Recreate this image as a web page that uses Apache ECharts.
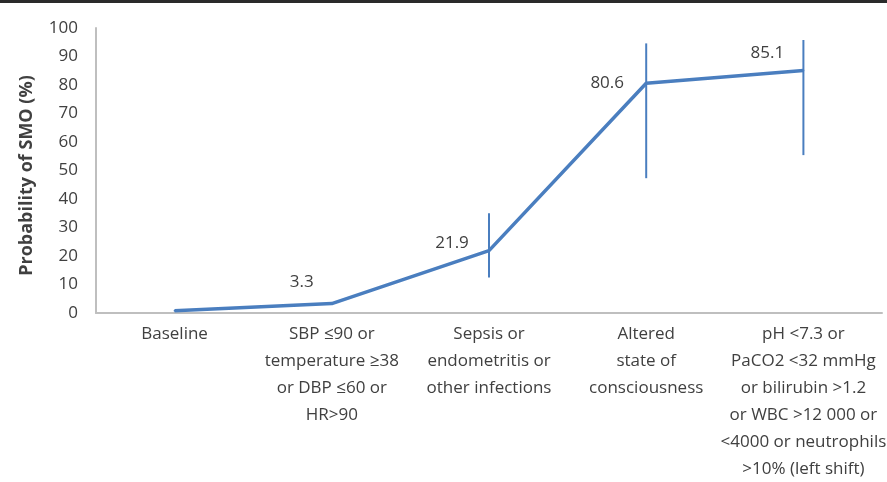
<!DOCTYPE html>
<html>
<head>
<meta charset="utf-8">
<script src="https://cdn.jsdelivr.net/npm/echarts@6/dist/echarts.min.js"></script>
<style>
html,body{margin:0;padding:0;background:#fff;}
#c{width:887px;height:482px;}
</style>
</head>
<body>
<div id="c"></div>
<script>
var categories = [
  'Baseline',
  'SBP \u226490 or\ntemperature \u226538\nor DBP \u226460 or\nHR>90',
  'Sepsis or\nendometritis or\nother infections',
  'Altered\nstate of\nconsciousness',
  'pH <7.3 or\nPaCO2 <32 mmHg\nor bilirubin >1.2\nor WBC >12 000 or\n<4000 or neutrophils\n>10% (left shift)'
];
var probability = [0.8, 3.3, 21.9, 80.6, 85.1];
var showLabel = [false, true, true, true, true];
var errLow = [null, null, 12.5, 47.3, 55.4];
var errHigh = [null, null, 35.0, 94.6, 95.8];
var yTicks = [0, 10, 20, 30, 40, 50, 60, 70, 80, 90, 100];

var FONT = '"Open Sans", sans-serif';
var BLUE = '#4a7ebf';
var labelOffsets = [[0,0],[-30,-21],[-37,-7],[-39,0],[-36,-17]];

var lineData = probability.map(function(v, i){
  return {
    value: v,
    label: {
      show: showLabel[i],
      position: 'inside',
      offset: labelOffsets[i],
      formatter: function(p){ return p.value.toFixed(1); },
      color: '#404040',
      fontFamily: FONT,
      fontSize: 17
    }
  };
});

var errData = [];
for (var i = 0; i < categories.length; i++) {
  if (errLow[i] != null) errData.push([i, errLow[i], errHigh[i]]);
}

var chart = echarts.init(document.getElementById('c'));
chart.setOption({
  animation: false,
  backgroundColor: '#fff',
  grid: {left: 96, right: 5, top: 28, bottom: 169, containLabel: false, outerBoundsMode: 'none'},
  xAxis: {
    type: 'category',
    data: categories,
    boundaryGap: true,
    axisLine: {show: true, lineStyle: {color: '#bfbfbf', width: 2}},
    axisTick: {show: false},
    axisLabel: {
      interval: 0,
      color: '#404040',
      fontFamily: FONT,
      fontSize: 17,
      lineHeight: 27,
      margin: 8
    }
  },
  yAxis: {
    type: 'value',
    min: yTicks[0],
    max: yTicks[yTicks.length - 1],
    interval: 10,
    name: 'Probability of SMO (%)',
    nameLocation: 'middle',
    nameGap: 60,
    nameTextStyle: {color: '#404040', fontFamily: FONT, fontSize: 18, fontWeight: 'bold', padding: [0, 10, 0, 0]},
    axisLine: {show: true, lineStyle: {color: '#bfbfbf', width: 2}},
    axisTick: {show: false},
    splitLine: {show: false},
    axisLabel: {color: '#404040', fontFamily: FONT, fontSize: 17, margin: 18}
  },
  graphic: [{
    type: 'rect',
    shape: {x: 0, y: 0, width: 887, height: 3},
    style: {fill: '#2a2a2a'}
  }],
  series: [
    {
      type: 'line',
      data: lineData,
      symbol: 'circle',
      symbolSize: 2,
      showSymbol: true,
      itemStyle: {color: BLUE},
      lineStyle: {color: BLUE, width: 3.5},
      z: 3
    },
    {
      type: 'custom',
      data: errData,
      renderItem: function(params, api){
        var lo = api.coord([api.value(0), api.value(1)]);
        var hi = api.coord([api.value(0), api.value(2)]);
        return {
          type: 'line',
          shape: {x1: lo[0], y1: lo[1], x2: hi[0], y2: hi[1]},
          style: {stroke: BLUE, lineWidth: 2}
        };
      },
      z: 2
    }
  ]
});
</script>
</body>
</html>
